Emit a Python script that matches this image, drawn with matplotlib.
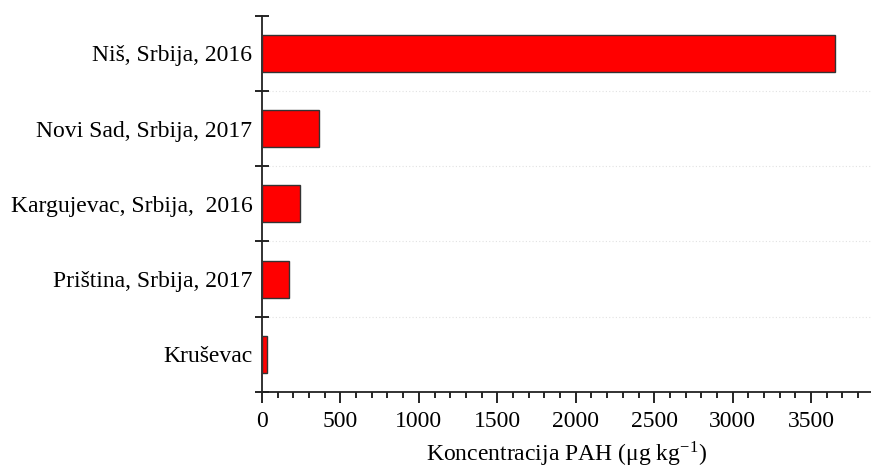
import matplotlib.pyplot as plt
from matplotlib.ticker import MultipleLocator

plt.rcParams['font.family'] = ['Liberation Serif', 'DejaVu Serif']
plt.rcParams['mathtext.fontset'] = 'stix'

# PAH concentrations per location
locations = ["Kruševac", "Priština, Srbija, 2017", "Kargujevac, Srbija,  2016",
             "Novi Sad, Srbija, 2017", "Niš, Srbija, 2016"]
pah_values = [30, 170, 242, 363, 3650]

fig = plt.figure(figsize=(8.71, 4.70), dpi=100)
ax = fig.add_axes([0.3008, 0.166, 0.6992, 0.8006])

pos = range(len(locations))
ax.barh(pos, pah_values, height=0.49, color="#ff0000",
        edgecolor="#333333", linewidth=1.0, zorder=3)

ax.set_xlim(0, 3882)
ax.set_ylim(-0.5, len(locations) - 0.5)

ax.set_yticks(list(pos))
ax.set_yticklabels(locations, fontsize=17)
ax.tick_params(axis="y", length=0, pad=7)

# boundary ticks between categories, with faint dotted lines
bounds = [i - 0.5 for i in range(len(locations) + 1)]
ax.set_yticks(bounds, minor=True)
ax.tick_params(axis="y", which="minor", direction="inout", length=10, width=1.2)
for b in bounds[1:-1]:
    ax.axhline(b, color="#e2e2e2", linestyle=(0, (1, 2)), linewidth=0.8, zorder=1)

ax.xaxis.set_major_locator(MultipleLocator(500))
ax.xaxis.set_minor_locator(MultipleLocator(100))
ax.tick_params(axis="x", which="major", direction="out", length=8, width=1.2,
               labelsize=17, pad=6)
ax.tick_params(axis="x", which="minor", direction="out", length=4, width=1.2)

for side in ["top", "right"]:
    ax.spines[side].set_visible(False)
for side in ["left", "bottom"]:
    ax.spines[side].set_linewidth(1.3)
    ax.spines[side].set_color("#222222")

ax.set_xlabel("Koncentracija PAH (μg kg$^{\\mathregular{-1}}$)", fontsize=17, labelpad=5)

fig.savefig("out.png", dpi=100)
